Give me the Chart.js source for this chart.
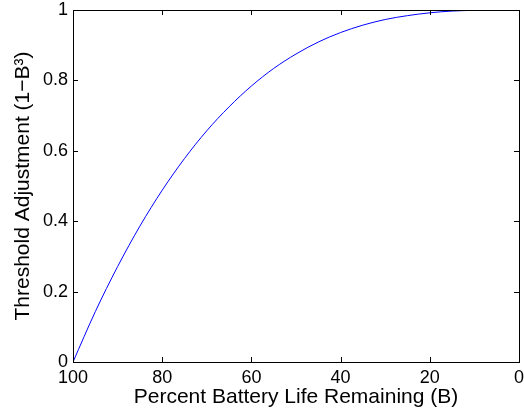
<!DOCTYPE html>
<html>
<head>
<meta charset="utf-8">
<script src="https://cdn.jsdelivr.net/npm/chart.js@4"></script>
<style>
  html, body { margin: 0; padding: 0; background: #fff; }
  #wrap { width: 524px; height: 412px; }
</style>
</head>
<body>
<div id="wrap"><canvas id="grafico" width="524" height="412"></canvas></div>
<script>
// Datos (porcentaje de bateria restante y ajuste)
const bateria = [100, 95, 90, 85, 80, 75, 70, 65, 60, 55, 50, 45, 40, 35, 30, 25, 20, 15, 10, 5, 0];
const ajuste = [0, 0.143, 0.271, 0.386, 0.488, 0.578, 0.657, 0.725, 0.784, 0.834, 0.875, 0.909, 0.936, 0.957, 0.973, 0.984, 0.992, 0.997, 0.999, 1.0, 1.0];
const ticksX = [100, 80, 60, 40, 20, 0];
const ticksY = [0, 0.2, 0.4, 0.6, 0.8, 1];

const fuente = 'Liberation Sans, Arial, Helvetica, sans-serif';

// Marco y marcas hacia adentro, estilo MATLAB
const marcoPlugin = {
    id: 'marco',
    afterDraw(chart) {
        const { ctx, chartArea: a, scales } = chart;
        ctx.save();
        ctx.strokeStyle = '#000';
        ctx.lineWidth = 1;
        ticksX.forEach(v => {
            const x = Math.round(scales.x.getPixelForValue(v)) + 0.5;
            ctx.beginPath();
            ctx.moveTo(x, a.bottom); ctx.lineTo(x, a.bottom - 5);
            ctx.moveTo(x, a.top); ctx.lineTo(x, a.top + 5);
            ctx.stroke();
        });
        ticksY.forEach(v => {
            const y = Math.round(scales.y.getPixelForValue(v)) + 0.5;
            ctx.beginPath();
            ctx.moveTo(a.left, y); ctx.lineTo(a.left + 5, y);
            ctx.moveTo(a.right, y); ctx.lineTo(a.right - 5, y);
            ctx.stroke();
        });
        ctx.strokeRect(Math.round(a.left) + 0.5, Math.round(a.top) + 0.5,
            Math.round(a.right - a.left), Math.round(a.bottom - a.top));
        ctx.restore();
    }
};

const ctx = document.getElementById('grafico').getContext('2d');
new Chart(ctx, {
    type: 'line',
    data: {
        datasets: [{
            data: bateria.map((b, i) => ({ x: b, y: ajuste[i] })),
            borderColor: '#0000ff',
            borderWidth: 1,
            pointRadius: 0,
            fill: false,
            cubicInterpolationMode: 'monotone'
        }]
    },
    options: {
        responsive: false,
        animation: false,
        layout: { padding: { top: 10, right: 5, left: 0, bottom: 0 } },
        plugins: {
            legend: { display: false },
            tooltip: { enabled: false }
        },
        scales: {
            x: {
                type: 'linear',
                reverse: true,
                min: 0,
                max: 100,
                grid: { display: false, drawTicks: false },
                border: { display: false },
                afterBuildTicks: s => { s.ticks = ticksX.map(v => ({ value: v })); },
                afterFit: s => { s.height = 50; s.paddingLeft = 0; s.paddingRight = 0; },
                ticks: {
                    color: '#000',
                    padding: 5,
                    maxRotation: 0,
                    font: { family: fuente, size: 18 }
                },
                title: {
                    display: true,
                    text: 'Percent Battery Life Remaining (B)',
                    color: '#000',
                    padding: { top: 0, bottom: 2 },
                    font: { family: fuente, size: 21 }
                }
            },
            y: {
                min: 0,
                max: 1,
                grid: { display: false, drawTicks: false },
                border: { display: false },
                afterBuildTicks: s => { s.ticks = ticksY.map(v => ({ value: v })); },
                afterFit: s => { s.width = 73; s.paddingTop = 0; s.paddingBottom = 0; },
                ticks: {
                    color: '#000',
                    padding: 5,
                    font: { family: fuente, size: 18 },
                    callback: v => String(Math.round(v * 10) / 10)
                },
                title: {
                    display: true,
                    text: 'Threshold Adjustment (1\u2212B\u00B3)',
                    color: '#000',
                    padding: { top: 11, bottom: 0 },
                    font: { family: fuente, size: 21 }
                }
            }
        }
    },
    plugins: [marcoPlugin]
});
</script>
</body>
</html>
